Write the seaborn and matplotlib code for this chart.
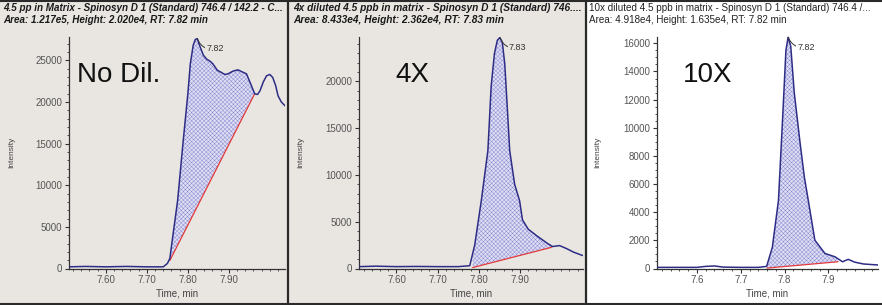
import numpy as np
import matplotlib
matplotlib.use("Agg")
import matplotlib.pyplot as plt
import seaborn as sns
from matplotlib.ticker import MultipleLocator, FormatStrFormatter

sns.set_style("white")
plt.rcParams['font.family'] = ['Liberation Sans', 'DejaVu Sans']
plt.rcParams['hatch.linewidth'] = 0.3
plt.rcParams['hatch.color'] = '#8282cc'

# ---------------- data ----------------
# Panel 1: No dilution
t1 = [7.51, 7.55, 7.60, 7.65, 7.70, 7.74, 7.75, 7.756, 7.765, 7.775, 7.788, 7.800, 7.806, 7.813,
      7.818, 7.823, 7.830, 7.838, 7.846, 7.854, 7.861, 7.872, 7.882, 7.890, 7.898, 7.910, 7.922,
      7.933, 7.943, 7.953, 7.963, 7.970, 7.976, 7.984, 7.992, 8.000, 8.007, 8.014, 8.020, 8.028, 8.037]
i1 = [200, 250, 200, 250, 200, 200, 600, 1200, 4500, 8150, 15000, 21000, 24580, 26800,
      27500, 27600, 26600, 25600, 25140, 24900, 24580, 23800, 23540, 23300, 23380, 23700, 23860,
      23600, 23380, 22200, 20980, 20900, 21340, 22400, 23140, 23300, 22940, 22000, 20740, 20000, 19540]
base1_t = [7.756, 7.963]
base1_i = [960, 20980]

# Panel 2: 4x diluted
t2 = [7.51, 7.55, 7.60, 7.65, 7.70, 7.75, 7.778, 7.790, 7.806, 7.822, 7.830, 7.838, 7.845, 7.851,
      7.857, 7.863, 7.870, 7.875, 7.887, 7.899, 7.906, 7.920, 7.940, 7.967, 7.979, 7.996, 8.013,
      8.030, 8.052]
i2 = [200, 250, 200, 220, 200, 200, 300, 2500, 7250, 12600, 19500, 23000, 24400, 24690,
      24200, 21880, 16540, 12600, 9000, 7250, 5200, 4200, 3520, 2670, 2350, 2450, 2130,
      1750, 1390]
base2_t = [7.785, 7.977]
base2_i = [100, 2270]

# Panel 3: 10x diluted
t3 = [7.51, 7.55, 7.60, 7.62, 7.64, 7.66, 7.70, 7.74, 7.759, 7.772, 7.786, 7.796, 7.803, 7.808,
      7.814, 7.822, 7.835, 7.845, 7.854, 7.869, 7.892, 7.915, 7.932, 7.945, 7.960, 7.980, 8.013]
i3 = [80, 80, 80, 150, 180, 100, 80, 80, 150, 1500, 4840, 11000, 15500, 16450,
      15800, 12500, 9000, 6500, 4840, 2010, 1070, 830, 480, 650, 450, 320, 250]
base3_t = [7.76, 7.922]
base3_i = [30, 480]

titles = [
    ("4.5 pp in Matrix - Spinosyn D 1 (Standard) 746.4 / 142.2 - C...",
     "Area: 1.217e5, Height: 2.020e4, RT: 7.82 min"),
    ("4x diluted 4.5 ppb in matrix - Spinosyn D 1 (Standard) 746....",
     "Area: 8.433e4, Height: 2.362e4, RT: 7.83 min"),
    ("10x diluted 4.5 ppb in matrix - Spinosyn D 1 (Standard) 746.4 /...",
     "Area: 4.918e4, Height: 1.635e4, RT: 7.82 min"),
]
big_labels = ["No Dil.", "4X", "10X"]
peak_labels = ["7.82", "7.83", "7.82"]

# ---------------- layout ----------------
W, H = 882, 305
fig = plt.figure(figsize=(W / 100, H / 100), dpi=100)
fig.patch.set_facecolor('white')

gray = '#e9e6e2'
fig.add_artist(plt.Rectangle((0, 0), 288 / W, 1, transform=fig.transFigure, color=gray, zorder=-5))
fig.add_artist(plt.Rectangle((288 / W, 0), (586 - 288) / W, 1, transform=fig.transFigure, color=gray, zorder=-5))
for xp in [288, 586]:
    fig.add_artist(plt.Line2D([xp / W, xp / W], [0, 1], transform=fig.transFigure, color='#2a2a2a', lw=1.6))
fig.add_artist(plt.Line2D([0, 1], [1 - 1 / H, 1 - 1 / H], transform=fig.transFigure, color='#2a2a2a', lw=1.5))
fig.add_artist(plt.Line2D([0, 1], [1.5 / H, 1.5 / H], transform=fig.transFigure, color='#2a2a2a', lw=1.5))

panels = [
    dict(t=t1, i=i1, bt=base1_t, bi=base1_i, ax=(69, 285), ylim=(0, 27800), xlim=(7.51, 8.037),
         ymaj=5000, ymin=1000, xfmt='%.2f', face=gray, tx=3, big=(77, 75), ylab_x=12, tfs=7.1),
    dict(t=t2, i=i2, bt=base2_t, bi=base2_i, ax=(359, 583), ylim=(0, 24750), xlim=(7.509, 8.053),
         ymaj=5000, ymin=1000, xfmt='%.2f', face=gray, tx=293, big=(395, 75), ylab_x=301, tfs=7.25),
    dict(t=t3, i=i3, bt=base3_t, bi=base3_i, ax=(657, 878), ylim=(0, 16450), xlim=(7.509, 8.013),
         ymaj=2000, ymin=500, xfmt='%.1f', face='white', tx=589, big=(683, 75), ylab_x=598, tfs=7.15),
]

ytop, ybot = 37, 268.5
line_col = '#2e2d86'
red = '#e23a3a'

for k, p in enumerate(panels):
    x0, x1 = p['ax']
    ax = fig.add_axes([x0 / W, (H - ybot) / H, (x1 - x0) / W, (ybot - ytop) / H])
    ax.set_facecolor(p['face'])
    t = np.array(p['t'])
    inten = np.array(p['i'])
    mask = (t >= p['bt'][0]) & (t <= p['bt'][1])
    tt = np.concatenate([[p['bt'][0]], t[mask], [p['bt'][1]]])
    ii = np.interp(tt, t, inten)
    bb = np.interp(tt, p['bt'], p['bi'])
    ax.fill_between(tt, bb, ii, facecolor='#dedef5', edgecolor='#8282cc', hatch='xxxxxxxx',
                    linewidth=0, zorder=1)
    sns.lineplot(x=p['t'], y=p['i'], ax=ax, color=line_col, linewidth=1.1, zorder=3)
    sns.lineplot(x=p['bt'], y=p['bi'], ax=ax, color=red, linewidth=0.9, zorder=2)

    ax.set_xlim(*p['xlim'])
    ax.set_ylim(*p['ylim'])
    ax.set_xticks(list(np.arange(7.6, 7.95, 0.1)))
    ax.xaxis.set_minor_locator(MultipleLocator(0.02))
    ax.xaxis.set_major_formatter(FormatStrFormatter(p['xfmt']))
    ax.yaxis.set_major_locator(MultipleLocator(p['ymaj']))
    ax.yaxis.set_minor_locator(MultipleLocator(p['ymin']))
    for s in ['top', 'right']:
        ax.spines[s].set_visible(False)
    for s in ['left', 'bottom']:
        ax.spines[s].set_color('#333333')
        ax.spines[s].set_linewidth(0.9)
    ax.tick_params(axis='both', which='major', direction='out', length=3, width=0.8,
                   colors='#333333', labelcolor='#555555', labelsize=7, pad=2,
                   left=True, bottom=True)
    ax.tick_params(axis='both', which='minor', direction='out', length=1.5, width=0.6,
                   colors='#333333', left=True, bottom=True)
    ax.set_xlabel("Time, min", fontsize=7, color='#444444', labelpad=2)
    ax.set_ylabel("")
    fig.text(p['ylab_x'] / W, 1 - 152 / H, "Intensity", rotation=90, fontsize=6,
             color='#444444', ha='center', va='center')

    imax = int(np.argmax(inten))
    ax.annotate(peak_labels[k], xy=(t[imax], inten[imax]), xytext=(9, -10),
                textcoords='offset pixels', fontsize=6.5, color='#333333', ha='left', va='center',
                annotation_clip=False,
                bbox=dict(boxstyle='square,pad=0.1', fc=p['face'], ec='none'),
                arrowprops=dict(arrowstyle='-', color='#333333', lw=0.7,
                                connectionstyle='arc3,rad=-0.4', shrinkA=0, shrinkB=0))

    fig.text(p['big'][0] / W, 1 - p['big'][1] / H, big_labels[k], fontsize=20, color='#111111',
             ha='left', va='center', family=['Liberation Sans', 'DejaVu Sans'])

    if k < 2:
        kw = dict(fontsize=p['tfs'], fontweight='bold', fontstyle='italic',
                  family=['Liberation Sans Narrow', 'Liberation Sans', 'DejaVu Sans'], color='#1a1a1a')
    else:
        kw = dict(fontsize=p['tfs'], family=['Liberation Sans', 'DejaVu Sans'], color='#222222')
    fig.text(p['tx'] / W, 1 - 8 / H, titles[k][0], ha='left', va='center', **kw)
    fig.text(p['tx'] / W, 1 - 20 / H, titles[k][1], ha='left', va='center', **kw)

fig.savefig("out.png", dpi=100, facecolor=fig.get_facecolor())
